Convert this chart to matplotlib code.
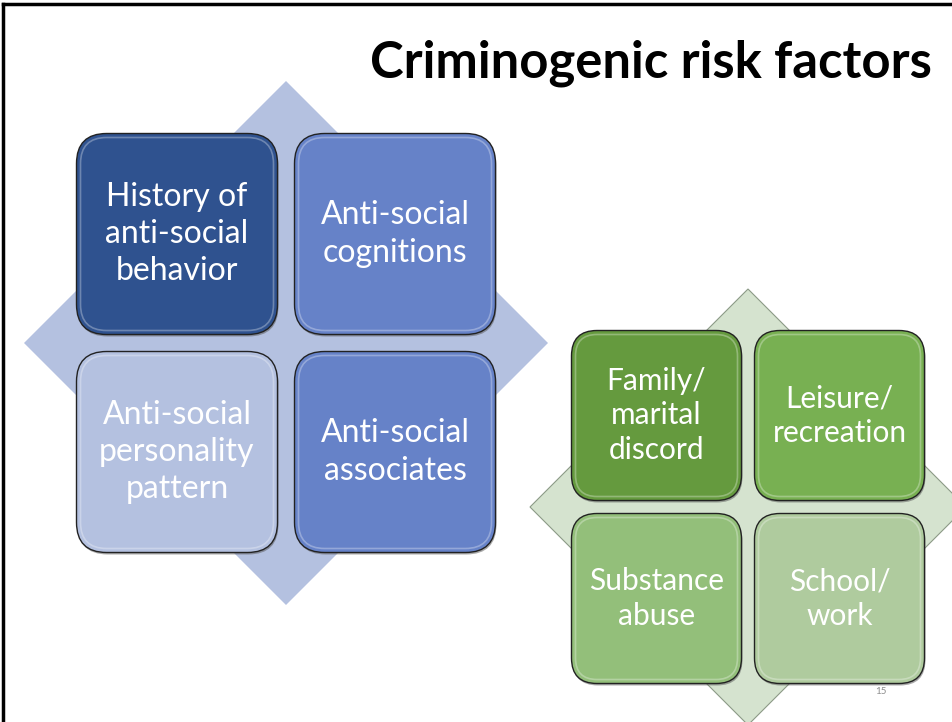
"""Criminogenic risk factors slide: two diamond-backed 2x2 box grids."""

import matplotlib
matplotlib.use("Agg")
import matplotlib.pyplot as plt
from matplotlib.patches import FancyBboxPatch, Polygon

# Data
title = "Criminogenic risk factors"
big_labels = ["History of\nanti-social\nbehavior", "Anti-social\ncognitions",
              "Anti-social\npersonality\npattern", "Anti-social\nassociates"]
big_colors = ["#2F528F", "#6682C8", "#B4C1E0", "#6682C8"]
small_labels = ["Family/\nmarital\ndiscord", "Leisure/\nrecreation",
                "Substance\nabuse", "School/\nwork"]
small_colors = ["#659A3E", "#78B052", "#93BF7A", "#AFCB9E"]
page_number = "15"

W, H = 953, 722
plt.rcParams["font.family"] = ["Lato", "DejaVu Sans"]

fig = plt.figure(figsize=(W / 100, H / 100), dpi=100)
ax = fig.add_axes([0, 0, 1, 1])
ax.set_xlim(0, W)
ax.set_ylim(H, 0)
ax.axis("off")


def draw_group(cx, cy, half_diag, diamond_color, edge, box, gap, labels, colors,
               fsize, lsp):
    # background diamond
    ax.add_patch(Polygon([(cx, cy - half_diag), (cx + half_diag, cy),
                          (cx, cy + half_diag), (cx - half_diag, cy)],
                         closed=True, facecolor=diamond_color,
                         edgecolor=edge, lw=0.8, zorder=1))
    r = box * 0.15
    for i, (lab, col) in enumerate(zip(labels, colors)):
        row, colm = divmod(i, 2)
        x0 = cx - gap / 2 - box + colm * (box + gap)
        y0 = cy - gap / 2 - box + row * (box + gap)
        # shadow
        ax.add_patch(FancyBboxPatch((x0 + 1, y0 + 2), box, box,
                                    boxstyle=f"round,pad=0,rounding_size={r}",
                                    facecolor="#555555", edgecolor="none",
                                    alpha=0.5, zorder=2))
        ax.add_patch(FancyBboxPatch((x0, y0), box, box,
                                    boxstyle=f"round,pad=0,rounding_size={r}",
                                    facecolor=col, edgecolor="#222222",
                                    lw=1.0, zorder=3))
        # bevel highlight
        ax.add_patch(FancyBboxPatch((x0 + 4, y0 + 4), box - 8, box - 8,
                                    boxstyle=f"round,pad=0,rounding_size={r - 4}",
                                    facecolor="none", edgecolor="white",
                                    lw=1.2, alpha=0.3, zorder=4))
        ax.text(x0 + box / 2, y0 + box / 2, lab, ha="center", va="center",
                color="white", fontsize=fsize, linespacing=lsp, zorder=5)


draw_group(286, 343, 262, "#B4C1E0", "none", 201, 17, big_labels, big_colors,
           23, 1.3)
draw_group(748, 507, 218, "#D5E3CF", "#8C9A86", 170, 13, small_labels,
           small_colors, 21.5, 1.28)

ax.text(932, 63, title, ha="right", va="center", fontsize=36.5,
        fontweight="bold", color="black", zorder=6)
ax.text(881, 692, page_number, ha="center", va="center", fontsize=7,
        color="#8C8C8C", zorder=6)

# slide frame (top and left edges visible)
ax.plot([3, W], [4, 4], color="black", lw=2.5, zorder=7)
ax.plot([3, 3], [4, H], color="black", lw=2.5, zorder=7)

fig.savefig("out.png", dpi=100)
